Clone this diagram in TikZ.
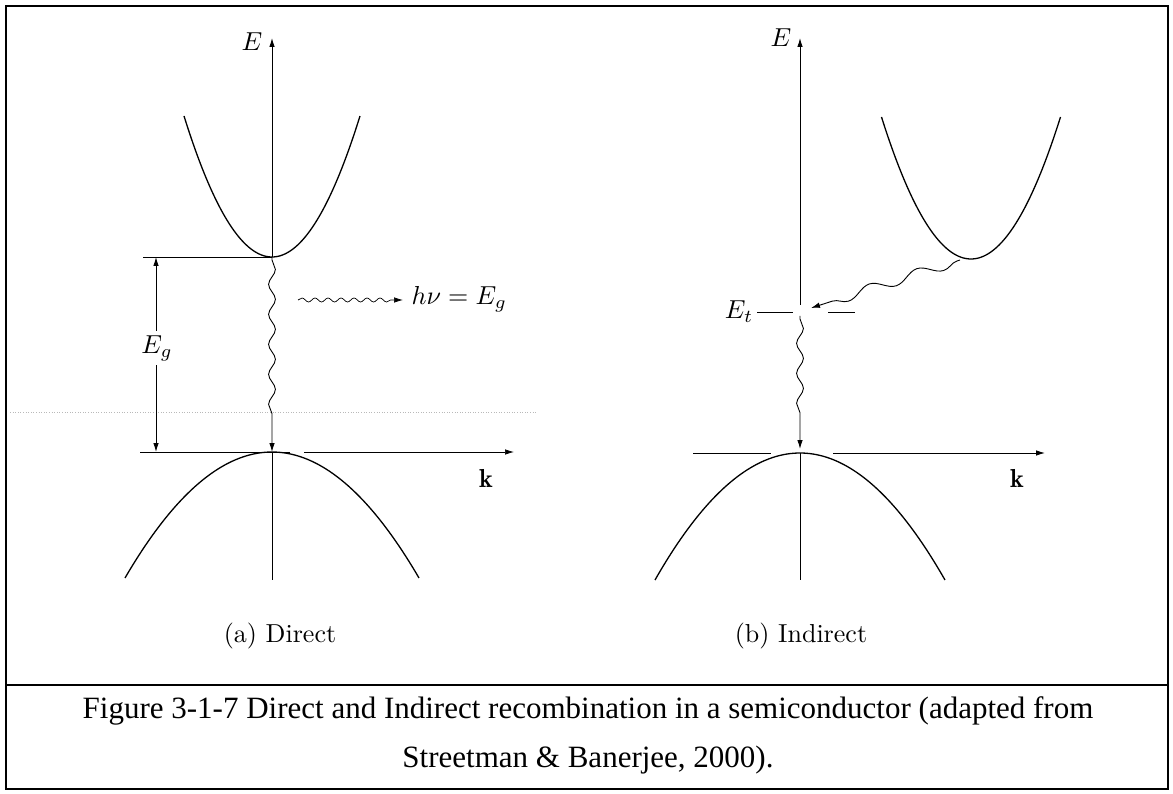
\documentclass[tikz,border=0pt]{standalone}
\usepackage{fontspec}
\newfontfamily\capfont{Liberation Serif}
\usetikzlibrary{decorations.pathmorphing,arrows.meta}
\tikzset{
  band/.style={line width=1.3pt},
  axisline/.style={line width=0.9pt},
  thinaxis/.style={line width=0.7pt},
  tipend/.style={-{Latex[length=9pt,width=5.5pt]}},
  bothend/.style={{Latex[length=9pt,width=5.5pt]}-{Latex[length=9pt,width=5.5pt]}},
  lbl/.style={scale=2.6, inner sep=0pt},
  caption/.style={font=\capfont\fontsize{31}{34}\selectfont, anchor=base},
  frame/.style={line width=1.8pt},
}
\begin{document}
\begin{tikzpicture}[x=1pt,y=-1pt]
\useasboundingbox (0,0) rectangle (1173,794);
% frame
\draw[frame] (6,6) rectangle (1168,789);
\coordinate (SepL) at (6,685);
\coordinate (SepR) at (1168,685);
\draw[frame] (SepL) -- (SepR);

% faint scan line
\draw[gray!55, dotted, line width=0.6pt] (10,412) -- (537,412);

% ---------------- left panel (direct) ----------------
\coordinate (LO) at (272,257);
\coordinate (LV) at (272,452);
\coordinate (LEtop) at (272,38);
\coordinate (LAxBot) at (272,580);
\coordinate (LKl) at (140,452);
\coordinate (LKm) at (290,452);
\coordinate (LKr0) at (304,452);
\coordinate (LKr) at (514,452);
\coordinate (LGap) at (143,257);
\coordinate (LEgT) at (156,257);
\coordinate (LEgB) at (156,452);
\coordinate (Ph1) at (298,300);
\coordinate (Ph2) at (403,300);

\draw[axisline, tipend] (LO) -- (LEtop);
\draw[axisline] (LV) -- (LAxBot);
\draw[axisline] (LGap) -- (LO);
\draw[axisline] (LKl) -- (LKm);
\draw[thinaxis, tipend] (LKr0) -- (LKr);
\draw[axisline, bothend] (LEgB) -- (LEgT);

\draw[band] plot[domain=-8.8:8.8, samples=80, smooth] ({272+10*\x},{257-1.8208*\x*\x});
\draw[band] plot[domain=-14.7:14.7, samples=80, smooth] ({272+10*\x},{452+0.583*\x*\x});

\draw[axisline, tipend, decorate,
  decoration={snake, amplitude=3.4pt, segment length=30pt, pre length=3pt, post length=36pt}]
  (LO) -- (LV);
\draw[thinaxis, tipend, decorate,
  decoration={snake, amplitude=2pt, segment length=13pt, post length=9pt}]
  (Ph1) -- (Ph2);

\node[lbl] (LE) at (252,42) {$E$};
\node[lbl, fill=white, inner sep=1.5pt] (LEg) at (157,348) {$E_g$};
\node[lbl, anchor=west] (Lhv) at (411,299) {$h\nu = E_g$};
\node[lbl] (Lk) at (486,478) {$\mathbf{k}$};
\node[lbl] (La) at (280,636) {(a) Direct};

% ---------------- right panel (indirect) ----------------
\coordinate (RAx) at (800,305);
\coordinate (REtop) at (800,38);
\coordinate (RV) at (800,453);
\coordinate (RAxBot) at (800,580);
\coordinate (RKl) at (693,453);
\coordinate (RKm) at (771,453);
\coordinate (RKr0) at (833,453);
\coordinate (RKr) at (1045,453);
\coordinate (RCmin) at (960,260);
\coordinate (RTrap) at (811,308);
\coordinate (RWtop) at (800,316);
\coordinate (RWbot) at (800,449);
\coordinate (Rd1a) at (757,312);
\coordinate (Rd1b) at (793,312);
\coordinate (Rd2a) at (828,312);
\coordinate (Rd2b) at (855,312);

\draw[axisline, tipend] (RAx) -- (REtop);
\draw[axisline] (RV) -- (RAxBot);
\draw[thinaxis] (RKl) -- (RKm);
\draw[axisline, tipend] (RKr0) -- (RKr);
\draw[thinaxis] (Rd1a) -- (Rd1b);
\draw[thinaxis] (Rd2a) -- (Rd2b);

\draw[band] plot[domain=-8.95:8.95, samples=80, smooth] ({971+10*\x},{259-1.773*\x*\x});
\draw[band] plot[domain=-14.5:14.5, samples=80, smooth] ({800+10*\x},{453+0.604*\x*\x});

\draw[axisline, tipend, decorate,
  decoration={snake, amplitude=5pt, segment length=50pt, pre length=3pt, post length=10pt}]
  (RCmin) -- (RTrap);
\draw[axisline, tipend, decorate,
  decoration={snake, amplitude=3.4pt, segment length=30pt, pre length=3pt, post length=36pt}]
  (RWtop) -- (RWbot);

\node[lbl] (RE) at (781,38) {$E$};
\node[lbl] (REt) at (739,312) {$E_t$};
\node[lbl] (Rk) at (1017,478) {$\mathbf{k}$};
\node[lbl] (Rb) at (801,636) {(b) Indirect};

% ---------------- caption ----------------
\node[caption] (Cap1) at (588,718) {Figure 3-1-7 Direct and Indirect recombination in a semiconductor (adapted from};
\node[caption] (Cap2) at (588,767) {Streetman \& Banerjee, 2000).};
\end{tikzpicture}
\end{document}
